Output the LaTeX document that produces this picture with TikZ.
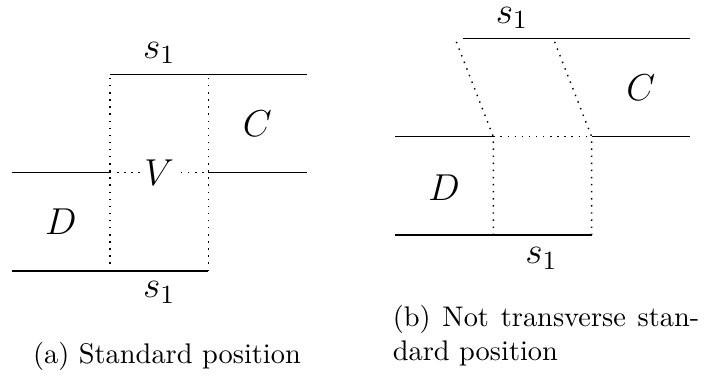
\RequirePackage{fix-cm}
\documentclass[tikz,border=0pt]{standalone}
\usepackage{tikz}
\usetikzlibrary{positioning}

\begin{document}
\begin{tikzpicture}[x=1.217cm,y=1.217cm,line width=0.5pt,
    seam/.style={dotted},
    lab/.style={font=\fontsize{13.2}{16}\selectfont,inner sep=1pt},
    captext/.style={font=\normalsize,inner sep=0pt}]
  \useasboundingbox (-0.119,-1.078) rectangle (7.043,2.757);
  % (a) standard position
  \foreach \name/\x/\y in {a00/0/0, a10/1/0, a20/2/0, a01/0/1, a11/1/1, a21/2/1, a31/3/1, a12/1/2, a22/2/2, a32/3/2}
    \coordinate (\name) at (\x,\y);
  \draw (a00) -- (a20);
  \draw (a01) -- (a11);
  \draw (a21) -- (a31);
  \draw (a12) -- (a32);
  \draw[seam] (a10) -- (a12);
  \draw[seam] (a20) -- (a22);
  \draw[seam] (a11) -- (a21);
  \node[lab] (sa-top) at (1.5,2.22) {$s_1$};
  \node[lab] (sa-bot) at (1.5,-0.22) {$s_1$};
  \node[lab] (ca) at (2.5,1.5) {$C$};
  \node[lab] (da) at (0.5,0.5) {$D$};
  \node[lab,fill=white,inner sep=0.5pt] (va) at (1.5,1) {$V$};
  \node[captext,anchor=base] (capa) at (1.58,-0.936) {(a) Standard position};
  % (b) not transverse
  \begin{scope}[shift={(3.9,0.366)}]
    \foreach \name/\x/\y in {b00/0/0, b10/1/0, b20/2/0, b01/0/1, b11/1/1, b21/2/1, b31/3/1, b02/0.695/2, b32/3/2, t1/0.61/2, t2/1.61/2}
      \coordinate (\name) at (\x,\y);
    \draw (b00) -- (b20);
    \draw (b01) -- (b11);
    \draw (b21) -- (b31);
    \draw (b02) -- (b32);
    \draw[seam] (b10) -- (b11) -- (t1);
    \draw[seam] (b20) -- (b21) -- (t2);
    \draw[seam] (b11) -- (b21);
    \node[lab] (sb-top) at (1.19,2.21) {$s_1$};
    \node[lab] (sb-bot) at (1.49,-0.24) {$s_1$};
    \node[lab] (cb) at (2.5,1.5) {$C$};
    \node[lab] (db) at (0.5,0.48) {$D$};
  \end{scope}
  \node[captext,anchor=base west,text width=108pt,align=justify] (capb) at (3.87,-0.56)
    {(b) Not transverse stan-\linebreak dard position};
\end{tikzpicture}
\end{document}
